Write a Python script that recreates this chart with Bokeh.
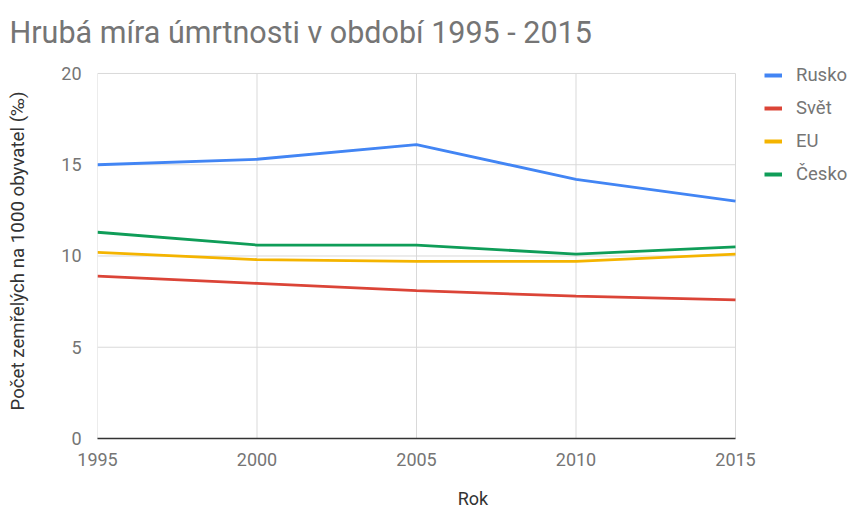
from bokeh.plotting import figure
from bokeh.models import Legend, LegendItem, FixedTicker, Range1d
from bokeh.embed import file_html
from bokeh.resources import INLINE

years = [1995, 2000, 2005, 2010, 2015]
rusko = [15.0, 15.3, 16.1, 14.2, 13.0]
svet = [8.9, 8.5, 8.1, 7.8, 7.6]
eu = [10.2, 9.8, 9.7, 9.7, 10.1]
cesko = [11.3, 10.6, 10.6, 10.1, 10.5]
series_names = ["Rusko", "Svět", "EU", "Česko"]
colors = ["#4285F4", "#DB4437", "#F4B400", "#0F9D58"]
y_ticks = [0, 5, 10, 15, 20]

FONT = "Roboto"
GREY = "#757575"
GRID = "#d9d9d9"

W, H = 848, 511
LEFT, RIGHT_PX, TOP, BOTTOM_PX = 97, 735, 63, 439   # frame extends right to canvas edge
x0, x1 = years[0], years[-1]
y0, y1 = y_ticks[0], y_ticks[-1]
x_per_px = (x1 - x0) / (RIGHT_PX - LEFT)
y_per_px = (y1 - y0) / (BOTTOM_PX - 73)

p = figure(width=W, height=H, output_backend="svg", toolbar_location=None,
           x_range=Range1d(x0, x1 + (W - RIGHT_PX) * x_per_px),
           y_range=Range1d(y0, y1 + (73 - TOP) * y_per_px),
           min_border_left=LEFT, min_border_right=0, min_border_top=TOP,
           min_border_bottom=H - BOTTOM_PX,
           title="Hrubá míra úmrtnosti v období 1995 - 2015")

p.title.text_font = FONT
p.title.text_font_size = "30.5px"
p.title.text_font_style = "normal"
p.title.text_color = GREY
p.title.align = "left"
p.title.vertical_align = "top"
p.title.offset = -88
p.title.standoff = 24

p.outline_line_color = None
p.background_fill_color = "white"
p.border_fill_color = "white"
p.xgrid.visible = False
p.ygrid.visible = False

# grid lines limited to the data area
p.segment(x0=years, y0=[y0] * len(years), x1=years, y1=[y1] * len(years),
          line_color=GRID, line_width=1)
p.segment(x0=[x0] * len(y_ticks), y0=y_ticks, x1=[x1] * len(y_ticks), y1=y_ticks,
          line_color=GRID, line_width=1)

p.xaxis.ticker = FixedTicker(ticks=years)
p.yaxis.ticker = FixedTicker(ticks=y_ticks)
for ax in (p.xaxis[0], p.yaxis[0]):
    ax.major_tick_line_color = None
    ax.minor_tick_line_color = None
    ax.major_label_text_font = FONT
    ax.major_label_text_font_size = "18px"
    ax.major_label_text_color = GREY
    ax.axis_label_text_font = FONT
    ax.axis_label_text_font_style = "normal"
    ax.axis_label_text_color = "#333333"

p.yaxis.axis_line_color = None
p.yaxis.major_label_standoff = 10
p.yaxis.axis_label = "Počet zemřelých na 1000 obyvatel (‰)"
p.yaxis.axis_label_text_font_size = "18.7px"
p.yaxis.axis_label_standoff = 29

p.xaxis.bounds = (x0, x1)
p.xaxis.axis_line_color = "#333333"
p.xaxis.axis_line_width = 1.5
p.xaxis.major_label_standoff = 8
p.xaxis.axis_label = "Rok"
p.xaxis.axis_label_text_font_size = "18px"
p.xaxis.axis_label_standoff = 19

data = [rusko, svet, eu, cesko]
items = []
for name, vals, c in zip(series_names, data, colors):
    p.line(years, vals, line_color=c, line_width=2.8)
    # swatch renderer (kept outside the visible ranges) for a thicker legend key
    dummy = p.line([x0 - 5, x0 - 4], [5, 5], line_color=c, line_width=4)
    items.append(LegendItem(label=name, renderers=[dummy]))

legend = Legend(items=items, location=(667, 253), orientation="vertical",
                label_text_font=FONT, label_text_font_size="18.5px", label_text_color=GREY,
                glyph_width=18, glyph_height=22, label_height=22, label_standoff=14,
                spacing=11, padding=0, margin=0, border_line_color=None,
                background_fill_alpha=0)
p.add_layout(legend, "center")

open("out.html", "w").write(file_html(p, INLINE))
